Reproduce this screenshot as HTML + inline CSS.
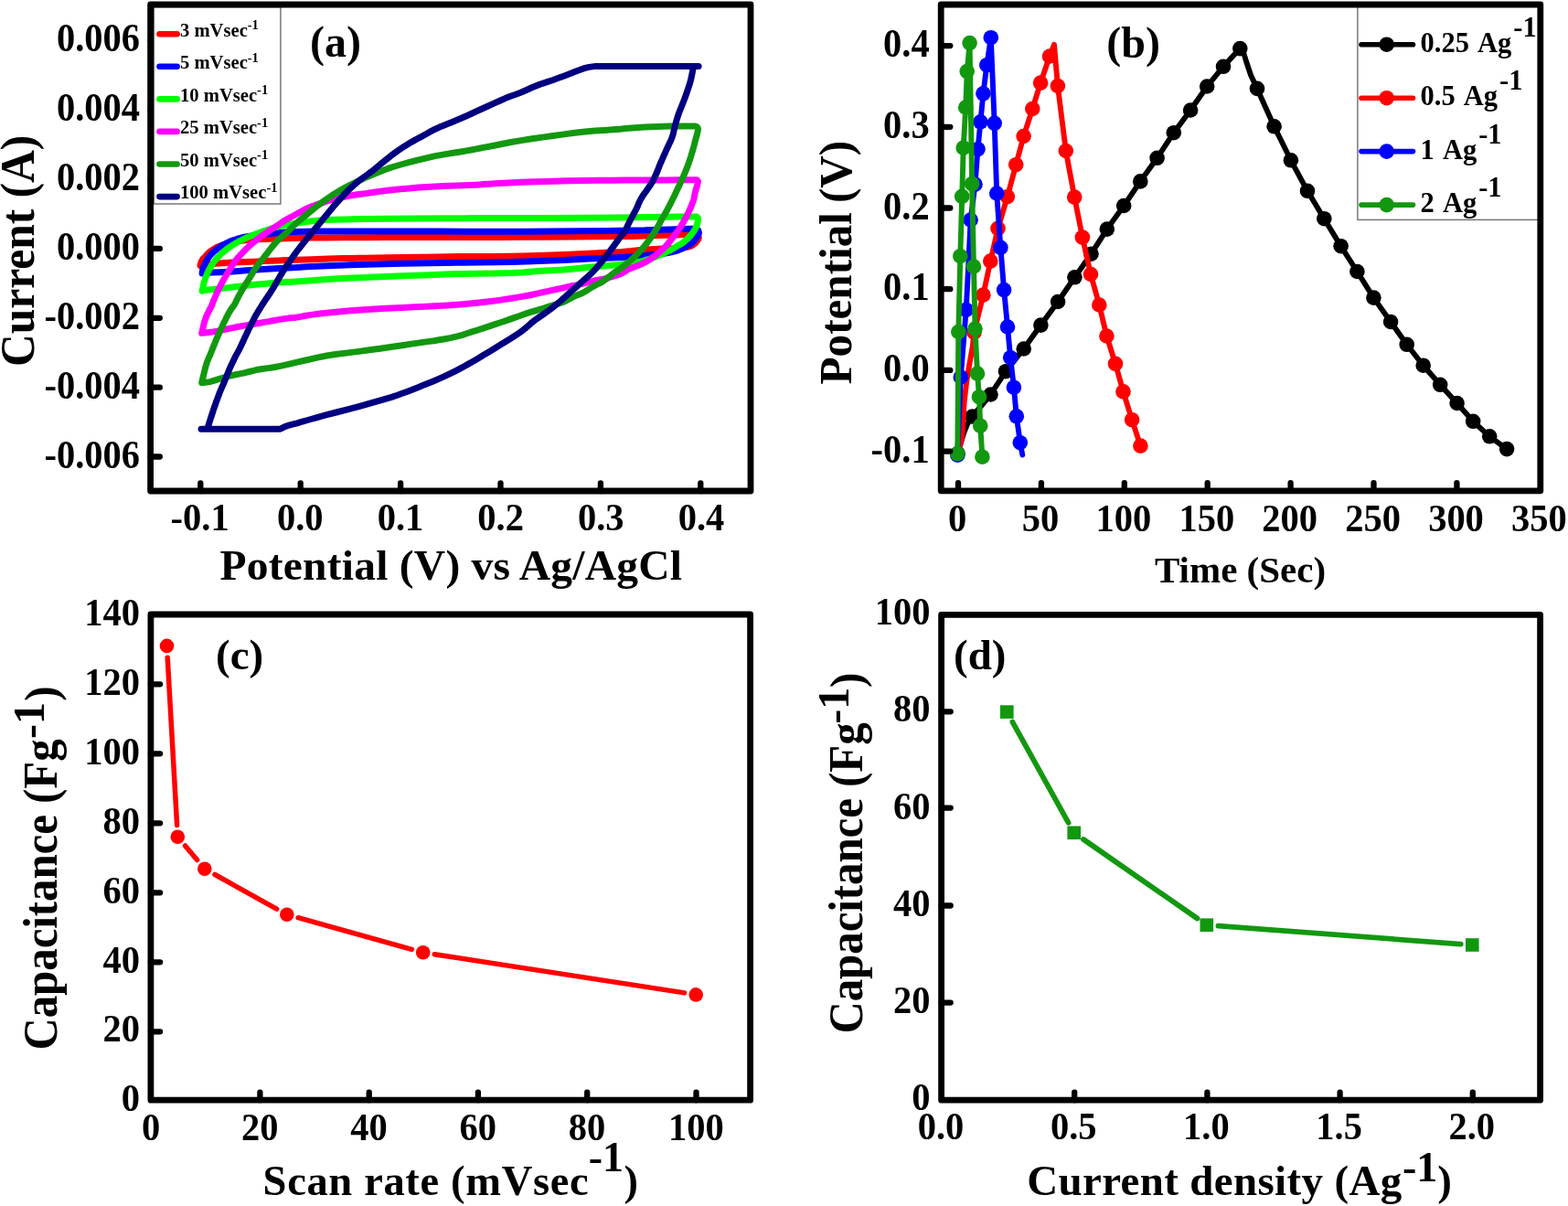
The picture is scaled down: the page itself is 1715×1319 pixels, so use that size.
<!DOCTYPE html>
<html lang="en"><head><meta charset="utf-8"><title>Electrochemical characterisation</title>
<style>
html,body{margin:0;padding:0;background:#fff;}
body{width:1715px;height:1319px;overflow:hidden;}
svg{display:block;}
text{font-family:"Liberation Serif", "DejaVu Serif", serif;font-weight:bold;fill:#000;}
</style></head><body>
<svg xmlns="http://www.w3.org/2000/svg" width="1715" height="1319" viewBox="0 0 1715 1319">
<rect width="1715" height="1319" fill="#fff"/>
<path d="M219.0 290.5 L219.2 289.5 L219.6 288.1 L220.0 286.7 L220.6 285.4 L221.3 284.2 L222.0 283.1 L222.7 282.3 L223.5 281.6 L224.5 280.6 L225.9 279.0 L227.6 277.2 L229.5 275.4 L231.7 273.8 L234.1 272.2 L236.5 270.8 L238.9 269.7 L241.3 268.8 L243.8 267.9 L246.4 267.0 L249.1 266.3 L252.0 265.5 L255.1 264.8 L258.4 264.1 L262.0 263.5 L265.9 263.0 L270.0 262.6 L275.0 262.2 L280.4 261.9 L286.5 261.6 L295.0 261.2 L306.3 260.9 L319.9 260.4 L336.0 260.1 L355.8 259.9 L378.1 259.8 L400.0 259.7 L420.3 259.6 L440.1 259.6 L460.0 259.6 L479.3 259.6 L498.5 259.5 L520.0 259.5 L545.4 259.4 L573.0 259.3 L600.0 259.2 L627.3 259.0 L654.0 258.7 L675.0 258.5 L685.8 258.4 L690.9 258.4 L698.0 258.2 L711.6 257.8 L727.3 257.3 L740.0 256.9 L747.3 256.6 L751.7 256.5 L755.0 256.4 L757.8 256.4 L759.6 256.4 L761.0 256.6 L762.3 257.0 L763.2 257.5 L763.8 257.8 L764.0 258.5 L764.2 259.5 L764.2 260.5 L763.9 261.4 L763.4 262.2 L762.7 263.2 L761.9 264.3 L760.8 265.6 L759.6 266.7 L758.2 267.7 L756.6 268.7 L754.7 269.5 L752.5 270.1 L750.0 270.5 L747.0 270.9 L744.0 271.2 L740.5 271.5 L735.0 271.8 L726.1 272.1 L715.3 272.5 L705.0 273.0 L697.5 273.7 L690.5 274.5 L680.0 275.4 L663.6 276.3 L643.6 277.3 L623.0 278.2 L602.3 279.0 L581.0 279.8 L560.0 280.3 L539.8 280.5 L519.9 280.5 L500.0 280.6 L479.3 280.9 L458.5 281.3 L440.0 281.6 L424.6 281.8 L411.5 282.0 L400.0 282.2 L391.5 282.3 L384.7 282.4 L375.0 282.6 L359.1 283.1 L340.3 283.7 L324.0 284.2 L312.7 284.6 L304.0 284.9 L296.0 285.2 L288.5 285.6 L281.7 286.0 L275.0 286.3 L268.0 286.5 L261.0 286.7 L254.0 287.0 L246.7 287.4 L239.5 287.9 L233.0 288.4 L227.3 289.1 L222.4 289.9 L219.0 290.5 Z" fill="none" stroke="#ff0000" stroke-width="7" stroke-linejoin="round" stroke-linecap="round"/>
<path d="M221.1 298.9 L221.3 297.8 L221.5 296.1 L221.8 294.6 L222.1 293.3 L222.6 292.1 L223.2 290.6 L224.2 288.6 L225.4 286.1 L226.7 283.8 L228.2 281.6 L229.8 279.5 L231.6 277.5 L233.5 275.6 L235.6 273.7 L237.9 271.9 L240.3 270.2 L242.9 268.5 L245.6 267.0 L248.3 265.6 L251.0 264.3 L254.0 263.1 L257.3 262.0 L260.9 260.9 L264.5 260.0 L267.6 259.2 L270.7 258.6 L275.0 257.9 L281.0 257.1 L288.1 256.3 L296.0 255.5 L303.0 254.7 L310.9 254.0 L324.0 253.4 L344.1 253.1 L369.6 253.0 L400.0 253.0 L438.2 253.0 L481.3 253.1 L520.0 253.2 L549.2 253.2 L574.0 253.2 L600.0 253.1 L631.8 252.8 L664.9 252.4 L691.0 252.0 L705.1 251.8 L712.3 251.5 L720.0 251.3 L732.0 250.9 L744.6 250.5 L754.0 250.2 L758.2 250.2 L759.2 250.3 L760.0 250.5 L761.6 251.0 L762.9 251.6 L763.8 252.0 L764.0 252.8 L764.3 253.9 L764.4 255.0 L764.1 256.0 L763.5 257.0 L762.7 258.3 L761.6 260.1 L760.2 262.2 L758.5 264.2 L756.6 265.9 L754.4 267.6 L751.9 269.1 L749.1 270.6 L746.0 272.0 L742.8 273.3 L739.9 274.4 L736.9 275.2 L733.0 276.1 L727.6 277.0 L721.2 277.8 L715.0 278.5 L709.3 279.1 L703.7 279.7 L698.0 280.2 L692.7 280.7 L687.4 281.1 L680.0 281.6 L669.6 282.1 L657.1 282.5 L644.0 283.1 L630.4 283.7 L616.2 284.4 L602.0 285.0 L588.7 285.5 L575.3 286.0 L560.0 286.4 L542.4 286.7 L522.9 287.0 L500.0 287.3 L471.5 287.7 L439.6 288.3 L410.0 288.9 L383.2 289.7 L358.6 290.7 L340.0 291.5 L331.1 292.0 L328.2 292.3 L324.0 292.6 L315.3 293.0 L305.3 293.5 L296.0 294.0 L288.2 294.5 L281.2 295.0 L275.0 295.4 L270.1 295.7 L265.9 296.1 L261.0 296.4 L254.4 296.9 L247.1 297.4 L240.0 297.8 L232.8 298.1 L225.9 298.3 L221.1 298.5 Z" fill="none" stroke="#0000ff" stroke-width="7" stroke-linejoin="round" stroke-linecap="round"/>
<path d="M221.1 318.2 L221.6 315.7 L222.4 312.2 L223.2 308.8 L224.1 306.0 L225.0 303.2 L226.0 300.6 L227.1 298.2 L228.2 295.9 L229.5 293.6 L231.0 291.0 L232.7 288.4 L234.4 285.9 L236.2 283.7 L238.0 281.6 L240.0 279.6 L242.2 277.4 L244.6 275.3 L247.0 273.3 L249.3 271.5 L251.7 269.9 L254.0 268.4 L256.3 266.9 L258.7 265.5 L261.0 264.2 L263.3 263.0 L265.7 261.8 L268.0 260.7 L270.3 259.7 L272.7 258.8 L275.0 257.9 L277.3 257.0 L279.7 256.0 L282.0 255.1 L284.3 254.2 L286.7 253.4 L289.0 252.6 L291.3 251.8 L293.7 251.0 L296.0 250.2 L298.3 249.5 L300.7 248.8 L303.0 248.2 L305.3 247.5 L307.7 246.9 L310.0 246.4 L312.1 246.0 L314.2 245.7 L317.0 245.3 L320.8 244.7 L325.3 243.9 L330.0 243.2 L334.7 242.6 L339.6 242.0 L345.0 241.5 L349.7 241.0 L354.8 240.6 L364.0 240.2 L378.3 239.9 L396.7 239.6 L420.0 239.3 L451.9 239.0 L488.7 238.8 L520.0 238.6 L538.5 238.5 L551.5 238.5 L570.0 238.5 L601.1 238.4 L637.8 238.2 L670.0 238.0 L694.2 237.8 L713.9 237.5 L730.0 237.3 L742.4 237.1 L751.2 237.0 L757.5 236.9 L760.8 236.9 L761.6 237.0 L762.0 237.2 L762.7 237.6 L763.2 238.2 L763.4 238.6 L763.4 239.6 L763.3 241.2 L763.1 242.9 L762.6 244.9 L761.9 247.1 L761.0 249.2 L760.0 251.1 L758.8 253.0 L757.5 254.8 L756.0 256.7 L754.3 258.6 L752.6 260.4 L750.8 262.1 L749.0 263.7 L747.0 265.3 L744.8 266.8 L742.4 268.1 L740.0 269.5 L737.7 270.9 L735.3 272.4 L733.0 273.7 L730.7 274.9 L728.3 276.1 L726.0 277.2 L723.7 278.2 L721.3 279.1 L719.0 280.0 L716.8 280.9 L714.6 281.9 L712.0 282.8 L709.0 283.7 L705.6 284.7 L701.5 285.6 L696.3 286.6 L690.5 287.6 L685.0 288.4 L681.0 289.0 L677.3 289.5 L672.0 290.0 L663.8 290.7 L653.9 291.4 L644.0 292.3 L634.7 293.2 L625.3 294.2 L616.0 295.1 L606.7 295.6 L597.3 296.0 L588.0 296.5 L579.9 297.2 L571.7 298.0 L560.0 298.6 L541.5 299.0 L519.5 299.3 L500.0 299.6 L486.4 300.1 L475.2 300.6 L462.4 301.1 L446.0 301.6 L428.0 302.2 L410.0 302.9 L391.8 303.7 L373.5 304.6 L357.4 305.5 L344.6 306.4 L334.0 307.2 L324.0 308.0 L314.0 308.6 L304.6 309.1 L296.0 309.7 L288.2 310.4 L281.2 311.1 L275.0 311.8 L270.1 312.3 L265.9 312.7 L261.0 313.2 L254.4 314.0 L247.1 314.9 L240.0 315.7 L232.8 316.5 L225.9 317.3 L221.1 317.8 Z" fill="none" stroke="#00ff00" stroke-width="7" stroke-linejoin="round" stroke-linecap="round"/>
<path d="M220.7 364.3 L221.2 362.3 L221.8 359.5 L222.5 356.6 L223.1 354.0 L223.8 351.4 L224.6 348.9 L225.5 346.5 L226.5 344.2 L227.6 341.9 L228.7 339.7 L229.9 337.5 L231.2 335.0 L232.4 332.0 L233.7 328.6 L235.0 325.5 L236.2 322.8 L237.3 320.2 L238.5 317.8 L239.6 315.4 L240.8 313.2 L242.0 310.8 L243.3 308.3 L244.8 305.6 L246.2 303.1 L247.6 300.7 L248.9 298.5 L250.4 296.1 L252.0 293.5 L253.6 290.9 L255.3 288.4 L256.9 286.2 L258.5 284.1 L260.2 282.1 L262.0 280.0 L263.9 277.8 L265.8 275.8 L267.7 273.9 L269.5 272.0 L271.4 270.2 L273.2 268.5 L275.0 267.0 L277.0 265.3 L279.2 263.5 L281.6 261.5 L284.0 259.7 L286.3 258.0 L288.7 256.4 L291.0 254.8 L293.3 253.2 L295.5 251.7 L297.7 250.2 L299.8 248.9 L301.8 247.6 L304.0 246.2 L306.4 244.6 L309.0 242.8 L312.1 240.8 L316.0 238.6 L320.4 236.2 L324.8 233.8 L329.4 231.4 L334.0 228.9 L338.0 227.0 L340.6 225.9 L342.5 225.3 L345.2 224.4 L349.3 222.9 L354.2 221.1 L359.0 219.5 L363.4 218.3 L367.6 217.3 L372.0 216.3 L376.6 215.3 L381.3 214.4 L386.0 213.5 L390.4 212.8 L394.9 212.3 L400.0 211.6 L405.9 210.7 L412.5 209.8 L420.0 208.8 L428.7 207.8 L438.4 206.8 L448.0 205.9 L457.5 205.1 L467.0 204.5 L476.0 203.9 L484.4 203.5 L492.4 203.2 L500.0 203.0 L507.1 202.7 L513.9 202.5 L520.0 202.2 L524.6 201.9 L528.7 201.6 L535.0 201.2 L544.5 200.6 L556.3 199.9 L570.0 199.3 L586.4 198.7 L604.6 198.2 L622.4 197.8 L638.8 197.5 L654.7 197.3 L670.0 197.2 L684.3 197.1 L697.9 197.1 L712.0 197.0 L728.4 196.9 L745.2 196.8 L757.5 196.8 L762.2 196.8 L762.2 196.8 L762.0 197.0 L762.7 197.4 L763.2 198.0 L763.4 198.4 L763.2 199.7 L762.9 201.5 L762.4 203.5 L761.8 205.7 L761.0 208.1 L760.3 210.5 L759.8 212.9 L759.4 215.3 L758.9 217.7 L758.1 220.2 L757.1 222.8 L756.1 225.4 L755.0 228.0 L753.8 230.6 L752.6 233.1 L751.5 235.5 L750.3 237.8 L749.1 240.1 L747.8 242.5 L746.3 244.8 L744.9 247.1 L743.5 249.3 L742.1 251.4 L740.7 253.4 L739.3 255.3 L738.0 257.1 L736.5 259.0 L734.9 261.0 L733.3 263.2 L731.6 265.3 L729.8 267.5 L727.9 269.6 L726.0 271.6 L724.2 273.3 L722.3 274.9 L720.4 276.5 L718.4 278.2 L716.2 279.8 L714.1 281.4 L712.0 282.9 L710.0 284.3 L707.8 285.6 L705.5 286.8 L703.2 288.0 L700.8 289.1 L698.5 290.1 L696.1 291.0 L693.8 291.9 L691.5 292.8 L689.1 293.7 L686.8 294.7 L684.8 296.0 L682.9 297.5 L680.0 299.0 L675.6 300.7 L670.2 302.5 L665.0 304.0 L660.3 305.1 L655.6 305.9 L651.0 306.8 L646.3 307.9 L641.7 309.1 L637.0 310.3 L632.3 311.3 L627.7 312.3 L623.0 313.2 L618.3 314.3 L613.7 315.3 L609.0 316.3 L604.3 317.3 L599.7 318.4 L595.0 319.4 L590.6 320.4 L586.2 321.4 L581.0 322.5 L574.7 323.7 L567.6 324.9 L560.0 326.2 L552.3 327.4 L544.2 328.6 L535.0 329.8 L523.9 331.0 L511.7 332.3 L500.0 333.3 L489.4 334.0 L479.4 334.5 L470.0 335.0 L461.7 335.4 L453.9 335.8 L445.0 336.2 L434.1 336.7 L422.0 337.3 L410.0 338.0 L398.3 338.7 L386.7 339.5 L375.0 340.5 L362.6 341.7 L350.2 343.1 L340.0 344.4 L333.3 345.5 L328.7 346.4 L325.0 347.1 L322.0 347.4 L319.9 347.5 L317.0 347.8 L312.8 348.4 L307.9 349.1 L303.0 349.9 L298.3 350.7 L293.7 351.6 L289.0 352.4 L284.3 353.2 L279.7 354.0 L275.0 354.8 L270.3 355.6 L265.7 356.4 L261.0 357.3 L256.3 358.2 L251.7 359.2 L247.0 360.1 L242.3 361.1 L237.5 362.1 L233.0 362.9 L228.3 363.5 L223.8 364.0 L220.7 364.3 Z" fill="none" stroke="#ff00ff" stroke-width="7" stroke-linejoin="round" stroke-linecap="round"/>
<path d="M220.7 418.5 L221.3 415.8 L222.2 412.0 L223.2 408.0 L224.1 404.2 L225.1 400.3 L226.3 396.5 L227.7 392.9 L229.3 389.4 L230.7 386.0 L232.0 382.8 L233.1 379.8 L234.3 376.9 L235.5 374.0 L236.6 371.2 L237.8 368.5 L239.0 365.9 L240.1 363.3 L241.3 360.8 L242.5 358.2 L243.6 355.6 L244.8 353.1 L246.0 350.7 L247.1 348.4 L248.3 346.1 L249.5 343.7 L250.8 341.4 L252.2 339.1 L253.6 337.1 L255.1 335.1 L256.5 333.0 L257.8 330.6 L259.0 328.1 L260.2 325.5 L261.6 322.9 L263.0 320.3 L264.4 317.8 L265.8 315.4 L267.1 313.2 L268.6 310.8 L270.2 308.3 L271.9 305.6 L273.5 303.1 L274.9 300.7 L276.3 298.4 L277.7 296.1 L279.3 293.8 L280.9 291.4 L282.6 289.1 L284.4 286.7 L286.4 284.4 L288.2 282.1 L289.9 279.9 L291.5 277.9 L293.1 275.8 L294.7 273.7 L296.3 271.6 L298.0 269.5 L299.8 267.4 L301.7 265.2 L303.6 263.2 L305.6 261.3 L307.8 259.4 L309.9 257.6 L312.0 255.7 L314.2 253.9 L316.2 252.0 L317.9 250.2 L319.5 248.5 L321.6 246.4 L324.2 244.0 L327.4 241.3 L331.0 238.3 L335.3 234.7 L340.2 230.7 L345.0 226.8 L349.5 223.4 L354.0 220.0 L358.5 216.9 L363.0 213.8 L367.5 211.0 L372.0 208.2 L376.6 205.6 L381.4 203.2 L386.0 200.8 L390.5 198.6 L395.0 196.5 L399.5 194.4 L404.0 192.5 L408.5 190.6 L413.0 188.8 L417.4 187.0 L421.8 185.2 L427.0 183.4 L433.2 181.5 L440.2 179.5 L448.0 177.4 L456.8 175.1 L466.4 172.8 L476.0 170.6 L485.8 168.9 L495.6 167.3 L504.0 166.0 L510.3 164.9 L515.2 164.0 L520.0 163.1 L524.3 162.3 L528.6 161.4 L535.0 160.2 L545.2 158.2 L557.6 155.8 L570.0 153.6 L581.7 151.8 L593.3 150.1 L605.0 148.5 L616.9 146.9 L628.7 145.3 L640.0 144.0 L650.7 143.1 L660.9 142.4 L670.0 141.8 L677.7 141.2 L684.3 140.6 L691.0 140.1 L698.0 139.6 L705.0 139.1 L712.0 138.7 L718.9 138.4 L725.7 138.2 L733.0 138.1 L741.6 138.0 L750.7 138.0 L757.5 138.0 L760.6 138.1 L761.5 138.3 L762.0 138.6 L762.7 139.2 L763.2 140.0 L763.4 140.5 L763.4 141.1 L763.4 142.2 L763.1 144.0 L762.4 147.0 L761.3 150.7 L760.3 154.5 L759.4 158.1 L758.4 161.6 L757.5 165.0 L756.6 168.1 L755.7 171.1 L754.7 174.1 L753.6 177.4 L752.4 180.7 L751.2 183.9 L750.0 186.8 L748.9 189.6 L747.7 192.3 L746.6 194.9 L745.4 197.4 L744.2 200.0 L742.9 202.9 L741.4 206.1 L740.0 209.1 L738.6 212.0 L737.2 214.9 L735.8 217.7 L734.4 220.5 L733.0 223.4 L731.6 226.1 L730.2 228.7 L728.8 231.3 L727.4 233.8 L726.0 236.2 L724.6 238.6 L723.2 241.1 L721.8 243.6 L720.5 246.2 L719.0 248.8 L717.4 251.4 L715.8 254.0 L714.1 256.6 L712.5 259.0 L710.9 261.3 L709.2 263.7 L707.4 266.0 L705.5 268.4 L703.6 270.7 L701.6 273.1 L699.4 275.4 L697.3 277.7 L695.2 279.7 L693.2 281.7 L691.0 283.7 L688.7 285.7 L686.4 287.7 L684.0 289.6 L681.6 291.5 L679.2 293.4 L677.0 295.0 L675.3 296.1 L673.7 296.9 L672.0 298.0 L669.8 299.7 L667.4 301.7 L665.0 303.6 L662.7 305.4 L660.3 307.0 L658.0 308.6 L655.7 309.8 L653.3 310.9 L651.0 312.1 L648.7 313.4 L646.3 314.9 L644.0 316.3 L641.7 317.7 L639.3 319.2 L637.0 320.5 L634.7 321.5 L632.3 322.4 L630.0 323.3 L627.7 324.4 L625.3 325.6 L623.0 326.8 L620.7 328.1 L618.3 329.3 L616.0 330.4 L613.9 331.1 L611.9 331.6 L609.0 332.5 L604.9 333.8 L599.9 335.4 L595.0 337.0 L590.3 338.4 L585.7 339.8 L581.0 341.2 L576.4 342.7 L571.7 344.3 L567.0 346.0 L562.1 347.6 L557.2 349.4 L552.0 351.2 L546.5 353.0 L540.8 354.9 L535.0 356.9 L529.0 358.8 L523.0 360.8 L517.0 362.6 L511.4 364.5 L505.9 366.3 L500.0 367.9 L493.5 369.4 L486.6 370.7 L480.0 371.8 L474.6 372.7 L469.5 373.4 L462.4 374.4 L452.0 375.9 L439.7 377.7 L427.4 379.5 L415.7 381.2 L404.1 382.8 L392.4 384.4 L380.6 385.9 L368.9 387.3 L357.4 389.0 L345.8 391.4 L334.4 394.0 L325.0 396.2 L318.7 397.7 L314.3 398.7 L310.0 399.6 L305.3 400.6 L300.6 401.5 L296.0 402.3 L291.3 402.9 L286.7 403.5 L282.0 404.2 L277.3 405.3 L272.7 406.5 L268.0 407.7 L263.3 408.6 L258.7 409.5 L254.0 410.5 L249.2 411.7 L244.4 413.1 L240.0 414.4 L236.2 415.6 L232.7 416.7 L229.5 417.6 L226.1 418.1 L222.9 418.4 L220.7 418.5 Z" fill="none" stroke="#12980f" stroke-width="7" stroke-linejoin="round" stroke-linecap="round"/>
<path d="M306.5 469.3 L220.0 469.3 L226.5 469.3 L226.7 468.9 L227.0 468.1 L227.6 466.5 L228.5 463.6 L229.7 459.8 L230.9 456.0 L232.1 452.5 L233.2 448.9 L234.4 445.5 L235.6 442.2 L236.7 438.9 L237.9 435.7 L239.1 432.6 L240.2 429.5 L241.4 426.6 L242.6 423.9 L243.7 421.3 L244.9 418.6 L246.0 415.8 L247.2 413.0 L248.4 410.0 L249.7 406.8 L251.1 403.4 L252.6 400.0 L254.3 396.5 L256.0 392.9 L257.7 389.5 L259.3 386.6 L260.8 383.9 L262.3 381.1 L263.7 378.1 L265.1 375.1 L266.5 372.0 L267.9 368.9 L269.3 365.9 L270.7 362.9 L272.1 360.0 L273.5 357.3 L274.9 354.5 L276.3 351.7 L277.7 348.8 L279.1 346.1 L280.6 343.5 L282.2 340.9 L283.7 338.4 L285.2 336.0 L286.6 333.7 L288.0 331.5 L289.4 329.4 L290.8 327.3 L292.4 325.0 L294.2 322.3 L296.1 319.3 L298.0 316.4 L299.7 313.6 L301.3 310.8 L302.9 308.0 L304.5 305.2 L306.2 302.3 L307.8 299.6 L309.4 297.0 L311.1 294.4 L312.7 291.9 L314.3 289.5 L316.0 287.2 L317.6 284.9 L319.3 282.5 L320.9 280.1 L322.5 277.9 L323.7 276.2 L324.8 274.7 L326.7 272.3 L329.9 268.3 L333.8 263.4 L338.0 258.2 L342.3 253.0 L346.9 247.5 L351.5 242.0 L356.0 236.5 L360.5 231.0 L365.0 225.6 L369.5 220.4 L374.1 215.3 L378.6 210.5 L383.1 206.1 L387.7 201.9 L392.2 198.0 L396.8 194.5 L401.4 191.3 L406.0 187.9 L410.7 184.2 L415.3 180.3 L420.0 176.5 L424.7 172.7 L429.3 169.1 L434.0 165.6 L438.7 162.4 L443.3 159.4 L448.0 156.6 L452.7 153.9 L457.3 151.3 L462.0 148.8 L466.7 146.2 L471.3 143.6 L476.0 141.2 L480.7 139.1 L485.3 137.2 L490.0 135.3 L494.6 133.4 L499.2 131.5 L504.0 129.5 L509.2 127.2 L514.7 124.7 L520.0 122.3 L525.0 120.0 L529.9 117.8 L535.0 115.5 L540.6 112.9 L546.6 110.2 L552.5 107.6 L558.3 105.3 L564.2 103.2 L570.0 101.0 L575.8 98.5 L581.7 95.8 L587.5 93.4 L593.3 91.3 L599.2 89.4 L605.0 87.5 L610.8 85.3 L616.6 83.2 L622.4 81.0 L628.5 78.6 L634.7 76.3 L640.0 74.4 L644.4 73.4 L648.0 72.9 L650.4 72.6 L764.1 72.6 L758.6 72.6 L758.5 73.0 L758.4 73.7 L758.0 75.5 L757.3 79.0 L756.4 83.6 L755.4 88.0 L754.3 91.9 L753.1 95.6 L751.9 99.2 L750.8 102.5 L749.6 105.7 L748.4 109.0 L747.0 112.5 L745.6 116.1 L744.2 119.5 L743.0 122.6 L741.9 125.5 L740.9 128.6 L739.9 131.9 L738.9 135.4 L738.0 139.0 L737.1 142.8 L736.2 146.7 L735.0 150.5 L733.6 154.0 L731.9 157.4 L730.3 160.8 L728.8 164.1 L727.4 167.4 L725.9 170.6 L724.5 173.9 L723.0 177.2 L721.6 180.4 L720.4 183.5 L719.3 186.5 L718.0 189.5 L716.7 192.6 L715.3 195.6 L713.7 198.6 L711.9 201.5 L710.0 204.3 L708.1 207.0 L706.4 209.5 L704.7 211.8 L703.2 214.0 L701.9 216.0 L700.8 217.9 L699.7 220.0 L698.6 222.5 L697.5 225.3 L696.2 228.2 L694.6 231.2 L692.9 234.3 L691.3 237.3 L689.9 239.9 L688.6 242.4 L687.3 245.0 L686.0 247.9 L684.6 250.9 L683.3 253.4 L682.1 255.0 L681.0 256.1 L679.8 257.5 L678.3 259.4 L676.6 261.6 L674.8 264.1 L672.6 267.2 L670.1 270.6 L667.7 273.9 L665.4 277.0 L663.0 280.0 L660.7 283.0 L658.4 285.9 L656.0 288.7 L653.7 291.4 L651.3 294.1 L649.0 296.7 L646.6 299.1 L644.3 301.3 L642.0 303.4 L639.6 305.4 L637.3 307.5 L634.9 309.6 L632.6 311.7 L630.3 313.8 L627.9 315.9 L625.6 318.0 L623.2 320.1 L620.9 322.2 L618.6 324.3 L616.2 326.4 L613.9 328.6 L611.5 330.6 L609.3 332.5 L607.0 334.3 L604.5 336.2 L602.0 338.2 L599.3 340.2 L596.1 342.5 L592.3 345.1 L588.1 348.0 L583.7 351.2 L579.4 354.8 L574.9 358.8 L570.0 362.7 L564.3 366.6 L558.1 370.4 L552.0 374.2 L546.3 377.7 L540.7 381.2 L535.0 384.7 L529.0 388.3 L523.0 391.9 L517.0 395.4 L511.4 398.6 L505.9 401.7 L500.0 404.8 L493.4 408.1 L486.5 411.4 L479.9 414.4 L473.9 417.0 L468.1 419.3 L462.4 421.6 L456.6 423.9 L450.8 426.2 L445.0 428.4 L439.8 430.3 L434.6 432.2 L427.4 434.6 L417.0 437.6 L404.7 441.2 L392.4 444.6 L380.1 447.8 L367.8 451.0 L357.4 453.7 L350.2 455.6 L345.0 457.1 L340.0 458.5 L334.7 460.0 L329.7 461.4 L325.0 462.8 L320.7 463.9 L316.9 464.9 L313.5 465.9 L310.6 467.1 L308.1 468.4 L306.5 469.3 Z" fill="none" stroke="#000080" stroke-width="7" stroke-linejoin="round" stroke-linecap="round"/>
<path d="M219.3 537.0 V528.4 M328.7 537.0 V528.4 M438.1 537.0 V528.4 M547.5 537.0 V528.4 M656.9 537.0 V528.4 M766.3 537.0 V528.4 M164.6 44.3 H174.8 M164.6 120.2 H174.8 M164.6 196.0 H174.8 M164.6 271.9 H174.8 M164.6 347.8 H174.8 M164.6 423.7 H174.8 M164.6 499.5 H174.8 " stroke="#000" stroke-width="6.3" stroke-linecap="round" fill="none"/>
<rect x="168.4" y="7.6" width="138.5" height="215.4" fill="#fff" stroke="#6e6e6e" stroke-width="1.4"/>
<path d="M174.5 37.3 H193.6" stroke="#ff0000" stroke-width="6.6" stroke-linecap="round"/>
<text transform="translate(197 39.6)" font-size="20.6">3 mVsec<tspan font-size="14.5" dy="-7.4">-1</tspan></text>
<path d="M174.5 72.8 H193.6" stroke="#0000ff" stroke-width="6.6" stroke-linecap="round"/>
<text transform="translate(197 75.1)" font-size="20.6">5 mVsec<tspan font-size="14.5" dy="-7.4">-1</tspan></text>
<path d="M174.5 108.4 H193.6" stroke="#00ff00" stroke-width="6.6" stroke-linecap="round"/>
<text transform="translate(197 110.7)" font-size="20.6">10 mVsec<tspan font-size="14.5" dy="-7.4">-1</tspan></text>
<path d="M174.5 143.9 H193.6" stroke="#ff00ff" stroke-width="6.6" stroke-linecap="round"/>
<text transform="translate(197 146.2)" font-size="20.6">25 mVsec<tspan font-size="14.5" dy="-7.4">-1</tspan></text>
<path d="M174.5 179.5 H193.6" stroke="#12980f" stroke-width="6.6" stroke-linecap="round"/>
<text transform="translate(197 181.8)" font-size="20.6">50 mVsec<tspan font-size="14.5" dy="-7.4">-1</tspan></text>
<path d="M174.5 215.1 H193.6" stroke="#000080" stroke-width="6.6" stroke-linecap="round"/>
<text transform="translate(197 217.4)" font-size="20.6">100 mVsec<tspan font-size="14.5" dy="-7.4">-1</tspan></text>
<rect x="164.6" y="5" width="656.4" height="532.0" fill="none" stroke="#000" stroke-width="6.8" stroke-linejoin="round"/>
<text transform="translate(153.0 55.9) scale(1 1.075)" font-size="40.5" text-anchor="end">0.006</text>
<text transform="translate(153.0 131.9) scale(1 1.075)" font-size="40.5" text-anchor="end">0.004</text>
<text transform="translate(153.0 207.9) scale(1 1.075)" font-size="40.5" text-anchor="end">0.002</text>
<text transform="translate(153.0 283.9) scale(1 1.075)" font-size="40.5" text-anchor="end">0.000</text>
<text transform="translate(153.0 359.9) scale(1 1.075)" font-size="40.5" text-anchor="end">-0.002</text>
<text transform="translate(153.0 435.9) scale(1 1.075)" font-size="40.5" text-anchor="end">-0.004</text>
<text transform="translate(153.0 511.9) scale(1 1.075)" font-size="40.5" text-anchor="end">-0.006</text>
<text transform="translate(218.6 580.4) scale(1 1.04)" font-size="40.5" text-anchor="middle">-0.1</text>
<text transform="translate(328.3 580.4) scale(1 1.04)" font-size="40.5" text-anchor="middle">0.0</text>
<text transform="translate(438.0 580.4) scale(1 1.04)" font-size="40.5" text-anchor="middle">0.1</text>
<text transform="translate(547.6 580.4) scale(1 1.04)" font-size="40.5" text-anchor="middle">0.2</text>
<text transform="translate(657.3 580.4) scale(1 1.04)" font-size="40.5" text-anchor="middle">0.3</text>
<text transform="translate(767.0 580.4) scale(1 1.04)" font-size="40.5" text-anchor="middle">0.4</text>
<text transform="translate(240.5 634) scale(1 0.985)" font-size="47.5" textLength="505.5" lengthAdjust="spacing">Potential (V) vs Ag/AgCl</text>
<text transform="translate(37.2 401.0) rotate(-90) scale(1 1.08)" font-size="49.5">Current (A)</text>
<text transform="translate(339 62.2)" font-size="48">(a)</text>
<path d="M1047.5 496.0 L1050.5 486.0 L1054.0 474.0 L1058.5 463.0 L1063.5 455.5 L1083.5 431.5 L1100.0 406.2 L1119.7 381.5 L1138.4 355.6 L1157.1 330.0 L1175.4 303.3 L1193.5 277.7 L1210.8 250.6 L1229.2 225.0 L1247.3 198.4 L1265.6 172.8 L1283.8 145.2 L1302.1 120.5 L1320.2 94.5 L1338.0 72.8 L1356.3 53.1 L1360.0 57.0 L1363.0 67.0 L1368.0 82.0 L1375.0 96.9 L1393.6 138.3 L1411.9 175.3 L1430.0 208.8 L1448.3 239.2 L1466.6 269.2 L1484.4 297.0 L1502.4 325.6 L1521.1 352.0 L1538.7 376.8 L1556.7 399.7 L1575.2 420.8 L1593.6 441.0 L1611.2 460.8 L1629.2 477.3 L1648.1 491.1" fill="none" stroke="#000000" stroke-width="5.9" stroke-linejoin="round" stroke-linecap="round"/>
<g fill="#000000"><circle cx="1047.5" cy="496" r="8.3"/><circle cx="1063.5" cy="455.5" r="8.3"/><circle cx="1083.5" cy="431.5" r="8.3"/><circle cx="1100" cy="406.2" r="8.3"/><circle cx="1119.7" cy="381.5" r="8.3"/><circle cx="1138.4" cy="355.6" r="8.3"/><circle cx="1157.1" cy="330" r="8.3"/><circle cx="1175.4" cy="303.3" r="8.3"/><circle cx="1193.5" cy="277.7" r="8.3"/><circle cx="1210.8" cy="250.6" r="8.3"/><circle cx="1229.2" cy="225" r="8.3"/><circle cx="1247.3" cy="198.4" r="8.3"/><circle cx="1265.6" cy="172.8" r="8.3"/><circle cx="1283.8" cy="145.2" r="8.3"/><circle cx="1302.1" cy="120.5" r="8.3"/><circle cx="1320.2" cy="94.5" r="8.3"/><circle cx="1338" cy="72.8" r="8.3"/><circle cx="1356.3" cy="53.1" r="8.3"/><circle cx="1375" cy="96.9" r="8.3"/><circle cx="1393.6" cy="138.3" r="8.3"/><circle cx="1411.9" cy="175.3" r="8.3"/><circle cx="1430" cy="208.8" r="8.3"/><circle cx="1448.3" cy="239.2" r="8.3"/><circle cx="1466.6" cy="269.2" r="8.3"/><circle cx="1484.4" cy="297" r="8.3"/><circle cx="1502.4" cy="325.6" r="8.3"/><circle cx="1521.1" cy="352" r="8.3"/><circle cx="1538.7" cy="376.8" r="8.3"/><circle cx="1556.7" cy="399.7" r="8.3"/><circle cx="1575.2" cy="420.8" r="8.3"/><circle cx="1593.6" cy="441" r="8.3"/><circle cx="1611.2" cy="460.8" r="8.3"/><circle cx="1629.2" cy="477.3" r="8.3"/><circle cx="1648.1" cy="491.1" r="8.3"/></g>
<path d="M1047.5 496.0 L1050.0 487.0 L1052.2 478.5 L1053.4 460.0 L1054.7 439.1 L1057.2 417.4 L1060.1 399.7 L1063.6 380.0 L1065.5 363.4 L1075.4 322.6 L1083.3 285.6 L1091.5 249.8 L1101.8 215.2 L1111.2 180.2 L1119.6 149.0 L1129.3 119.0 L1138.1 90.6 L1148.0 61.5 L1153.0 48.7 L1156.9 94.0 L1165.8 165.0 L1175.2 215.6 L1183.9 259.6 L1193.0 300.0 L1202.3 333.5 L1210.4 367.5 L1220.0 397.8 L1228.5 428.4 L1238.1 459.2 L1247.4 487.6" fill="none" stroke="#ff0000" stroke-width="5.9" stroke-linejoin="round" stroke-linecap="round"/>
<g fill="#ff0000"><circle cx="1065.5" cy="363.4" r="8.3"/><circle cx="1075.4" cy="322.6" r="8.3"/><circle cx="1083.3" cy="285.6" r="8.3"/><circle cx="1091.5" cy="249.8" r="8.3"/><circle cx="1101.8" cy="215.2" r="8.3"/><circle cx="1111.2" cy="180.2" r="8.3"/><circle cx="1119.6" cy="149" r="8.3"/><circle cx="1129.3" cy="119" r="8.3"/><circle cx="1138.1" cy="90.6" r="8.3"/><circle cx="1148" cy="61.5" r="8.3"/><circle cx="1156.9" cy="94" r="8.3"/><circle cx="1165.8" cy="165" r="8.3"/><circle cx="1175.2" cy="215.6" r="8.3"/><circle cx="1183.9" cy="259.6" r="8.3"/><circle cx="1193" cy="300" r="8.3"/><circle cx="1202.3" cy="333.5" r="8.3"/><circle cx="1210.4" cy="367.5" r="8.3"/><circle cx="1220" cy="397.8" r="8.3"/><circle cx="1228.5" cy="428.4" r="8.3"/><circle cx="1238.1" cy="459.2" r="8.3"/><circle cx="1247.4" cy="487.6" r="8.3"/></g>
<path d="M1047.3 497.7 L1050.8 412.5 L1056.7 338.8 L1059.2 290.0 L1061.6 240.5 L1066.5 201.6 L1069.5 163.2 L1072.4 133.3 L1075.4 102.3 L1079.3 71.2 L1083.8 41.2 L1087.7 134.8 L1090.2 211.5 L1094.4 270.8 L1098.1 317.1 L1102.0 357.5 L1105.2 391.2 L1108.9 423.7 L1111.8 455.3 L1115.8 484.2 L1118.3 497.5" fill="none" stroke="#0000ff" stroke-width="5.9" stroke-linejoin="round" stroke-linecap="round"/>
<g fill="#0000ff"><circle cx="1047.3" cy="497.7" r="8.3"/><circle cx="1050.8" cy="412.5" r="8.3"/><circle cx="1056.7" cy="338.8" r="8.3"/><circle cx="1061.6" cy="240.5" r="8.3"/><circle cx="1066.5" cy="201.6" r="8.3"/><circle cx="1069.5" cy="163.2" r="8.3"/><circle cx="1072.4" cy="133.3" r="8.3"/><circle cx="1075.4" cy="102.3" r="8.3"/><circle cx="1079.3" cy="71.2" r="8.3"/><circle cx="1083.8" cy="41.2" r="8.3"/><circle cx="1087.7" cy="134.8" r="8.3"/><circle cx="1090.2" cy="211.5" r="8.3"/><circle cx="1094.4" cy="270.8" r="8.3"/><circle cx="1098.1" cy="317.1" r="8.3"/><circle cx="1102" cy="357.5" r="8.3"/><circle cx="1105.2" cy="391.2" r="8.3"/><circle cx="1108.9" cy="423.7" r="8.3"/><circle cx="1111.8" cy="455.3" r="8.3"/><circle cx="1115.8" cy="484.2" r="8.3"/></g>
<path d="M1047.3 496.3 L1048.3 363.0 L1050.3 280.2 L1052.2 214.9 L1053.7 161.7 L1056.2 117.5 L1057.7 78.1 L1060.6 47.1 L1063.1 201.1 L1065.0 291.5 L1066.5 359.5 L1069.0 408.6 L1071.0 434.2 L1072.2 465.7 L1074.4 499.7" fill="none" stroke="#12980f" stroke-width="5.9" stroke-linejoin="round" stroke-linecap="round"/>
<g fill="#12980f"><circle cx="1047.3" cy="496.3" r="8.3"/><circle cx="1048.3" cy="363" r="8.3"/><circle cx="1050.3" cy="280.2" r="8.3"/><circle cx="1052.2" cy="214.9" r="8.3"/><circle cx="1053.7" cy="161.7" r="8.3"/><circle cx="1056.2" cy="117.5" r="8.3"/><circle cx="1057.7" cy="78.1" r="8.3"/><circle cx="1060.6" cy="47.1" r="8.3"/><circle cx="1063.1" cy="201.1" r="8.3"/><circle cx="1065" cy="291.5" r="8.3"/><circle cx="1066.5" cy="359.5" r="8.3"/><circle cx="1069" cy="408.6" r="8.3"/><circle cx="1071" cy="434.2" r="8.3"/><circle cx="1072.2" cy="465.7" r="8.3"/><circle cx="1074.4" cy="499.7" r="8.3"/></g>
<rect x="1484.9" y="5.0" width="199.89999999999986" height="235.4" fill="#fff" stroke="#6e6e6e" stroke-width="1.4"/>
<path d="M1489 48.7 H1545.5" stroke="#000000" stroke-width="5.6" stroke-linecap="round"/>
<circle cx="1516.7" cy="48.7" r="8.3" fill="#000000"/>
<text transform="translate(1553.5 56.7)" font-size="30.5" style="word-spacing:3.2px">0.25 Ag<tspan dy="-17" dx="2">-1</tspan></text>
<path d="M1489 107.2 H1545.5" stroke="#ff0000" stroke-width="5.6" stroke-linecap="round"/>
<circle cx="1516.7" cy="107.2" r="8.3" fill="#ff0000"/>
<text transform="translate(1553.5 115.2)" font-size="30.5" style="word-spacing:3.2px">0.5 Ag<tspan dy="-17" dx="2">-1</tspan></text>
<path d="M1489 165.6 H1545.5" stroke="#0000ff" stroke-width="5.6" stroke-linecap="round"/>
<circle cx="1516.7" cy="165.6" r="8.3" fill="#0000ff"/>
<text transform="translate(1553.5 173.6)" font-size="30.5" style="word-spacing:3.2px">1 Ag<tspan dy="-17" dx="2">-1</tspan></text>
<path d="M1489 224.1 H1545.5" stroke="#12980f" stroke-width="5.6" stroke-linecap="round"/>
<circle cx="1516.7" cy="224.1" r="8.3" fill="#12980f"/>
<text transform="translate(1553.5 232.1)" font-size="30.5" style="word-spacing:3.2px">2 Ag<tspan dy="-17" dx="2">-1</tspan></text>
<path d="M1048.0 536.8 V528.1 M1138.9 536.8 V528.1 M1229.8 536.8 V528.1 M1320.7 536.8 V528.1 M1411.6 536.8 V528.1 M1502.5 536.8 V528.1 M1593.4 536.8 V528.1 M1029.2 50.1 H1039.3 M1029.2 138.8 H1039.3 M1029.2 227.5 H1039.3 M1029.2 316.2 H1039.3 M1029.2 404.9 H1039.3 M1029.2 493.6 H1039.3 " stroke="#000" stroke-width="6.3" stroke-linecap="round" fill="none"/>
<rect x="1029.2" y="5.0" width="655.5999999999999" height="531.8" fill="none" stroke="#000" stroke-width="6.8" stroke-linejoin="round"/>
<text transform="translate(1016.7 62.1) scale(1 1.075)" font-size="40.5" text-anchor="end">0.4</text>
<text transform="translate(1016.7 150.8) scale(1 1.075)" font-size="40.5" text-anchor="end">0.3</text>
<text transform="translate(1016.7 239.5) scale(1 1.075)" font-size="40.5" text-anchor="end">0.2</text>
<text transform="translate(1016.7 328.2) scale(1 1.075)" font-size="40.5" text-anchor="end">0.1</text>
<text transform="translate(1016.7 416.9) scale(1 1.075)" font-size="40.5" text-anchor="end">0.0</text>
<text transform="translate(1016.7 505.6) scale(1 1.075)" font-size="40.5" text-anchor="end">-0.1</text>
<text transform="translate(1047.1 580.5) scale(1 1.04)" font-size="40.5" text-anchor="middle">0</text>
<text transform="translate(1138.0 580.5) scale(1 1.04)" font-size="40.5" text-anchor="middle">50</text>
<text transform="translate(1228.9 580.5) scale(1 1.04)" font-size="40.5" text-anchor="middle">100</text>
<text transform="translate(1319.8 580.5) scale(1 1.04)" font-size="40.5" text-anchor="middle">150</text>
<text transform="translate(1410.7 580.5) scale(1 1.04)" font-size="40.5" text-anchor="middle">200</text>
<text transform="translate(1501.6 580.5) scale(1 1.04)" font-size="40.5" text-anchor="middle">250</text>
<text transform="translate(1592.5 580.5) scale(1 1.04)" font-size="40.5" text-anchor="middle">300</text>
<text transform="translate(1683.4 580.5) scale(1 1.04)" font-size="40.5" text-anchor="middle">350</text>
<text transform="translate(1263 637.2)" font-size="41">Time (Sec)</text>
<text transform="translate(931 420.5) rotate(-90) scale(1 1.025)" font-size="49.2" style="word-spacing:-2.3px">Potential (V)</text>
<text transform="translate(1210.3 63.2)" font-size="48">(b)</text>
<line x1="183.2" y1="719.2" x2="193.6" y2="902.4" stroke="#ff0000" stroke-width="5.5" stroke-linecap="round"/>
<line x1="202.5" y1="925.0" x2="215.6" y2="940.5" stroke="#ff0000" stroke-width="5.5" stroke-linecap="round"/>
<line x1="235.0" y1="956.5" x2="302.6" y2="994.1" stroke="#ff0000" stroke-width="5.5" stroke-linecap="round"/>
<line x1="326.1" y1="1003.7" x2="450.4" y2="1038.3" stroke="#ff0000" stroke-width="5.5" stroke-linecap="round"/>
<line x1="475.3" y1="1043.7" x2="748.6" y2="1085.9" stroke="#ff0000" stroke-width="5.5" stroke-linecap="round"/>
<g fill="#ff0000"><circle cx="182.5" cy="706.4" r="7.8"/><circle cx="194.3" cy="915.2" r="7.8"/><circle cx="223.8" cy="950.3" r="7.8"/><circle cx="313.8" cy="1000.3" r="7.8"/><circle cx="462.7" cy="1041.7" r="7.8"/><circle cx="761.2" cy="1087.9" r="7.8"/></g>
<path d="M284.4 1203.2 V1194.6 M403.7 1203.2 V1194.6 M522.9 1203.2 V1194.6 M642.2 1203.2 V1194.6 M761.5 1203.2 V1194.6 M164.9 748.3 H175.1 M164.9 824.3 H175.1 M164.9 900.3 H175.1 M164.9 976.3 H175.1 M164.9 1052.3 H175.1 M164.9 1128.3 H175.1 " stroke="#000" stroke-width="6.3" stroke-linecap="round" fill="none"/>
<rect x="164.9" y="672" width="655.7" height="531.2" fill="none" stroke="#000" stroke-width="6.8" stroke-linejoin="round"/>
<text transform="translate(153.1 684.4) scale(1 1.04)" font-size="40.5" text-anchor="end">140</text>
<text transform="translate(153.1 760.2) scale(1 1.04)" font-size="40.5" text-anchor="end">120</text>
<text transform="translate(153.1 836.1) scale(1 1.04)" font-size="40.5" text-anchor="end">100</text>
<text transform="translate(153.1 911.9) scale(1 1.04)" font-size="40.5" text-anchor="end">80</text>
<text transform="translate(153.1 987.8) scale(1 1.04)" font-size="40.5" text-anchor="end">60</text>
<text transform="translate(153.1 1063.6) scale(1 1.04)" font-size="40.5" text-anchor="end">40</text>
<text transform="translate(153.1 1139.4) scale(1 1.04)" font-size="40.5" text-anchor="end">20</text>
<text transform="translate(153.1 1215.3) scale(1 1.04)" font-size="40.5" text-anchor="end">0</text>
<text transform="translate(165.0 1247.2) scale(1 1.025)" font-size="40.5" text-anchor="middle">0</text>
<text transform="translate(284.3 1247.2) scale(1 1.025)" font-size="40.5" text-anchor="middle">20</text>
<text transform="translate(403.5 1247.2) scale(1 1.025)" font-size="40.5" text-anchor="middle">40</text>
<text transform="translate(522.8 1247.2) scale(1 1.025)" font-size="40.5" text-anchor="middle">60</text>
<text transform="translate(642.1 1247.2) scale(1 1.025)" font-size="40.5" text-anchor="middle">80</text>
<text transform="translate(761.4 1247.2) scale(1 1.025)" font-size="40.5" text-anchor="middle">100</text>
<text transform="translate(287.6 1307)" font-size="46.5" textLength="356" lengthAdjust="spacing">Scan rate (mVsec</text>
<text transform="translate(643.8 1280.5)" font-size="46">-1</text>
<text transform="translate(682.6 1307)" font-size="46.5">)</text>
<text transform="translate(62.3 1148.5) rotate(-90) scale(1 1.07)" font-size="48.8">Capacitance (Fg</text>
<text transform="translate(47.5 807.9) rotate(-90) scale(1 1.03)" font-size="48">-1</text>
<text transform="translate(62.3 766.8) rotate(-90) scale(1 1.03)" font-size="49.5">)</text>
<text transform="translate(236 731.5)" font-size="47">(c)</text>
<line x1="1107.4" y1="789.6" x2="1168.6" y2="899.8" stroke="#12980f" stroke-width="5.8" stroke-linecap="round"/>
<line x1="1185.0" y1="918.0" x2="1309.5" y2="1004.5" stroke="#12980f" stroke-width="5.8" stroke-linecap="round"/>
<line x1="1332.4" y1="1012.6" x2="1597.7" y2="1032.6" stroke="#12980f" stroke-width="5.8" stroke-linecap="round"/>
<g fill="#12980f"><rect x="1094.0" y="771.3" width="14.6" height="14.6"/><rect x="1167.4" y="903.5" width="14.6" height="14.6"/><rect x="1312.5" y="1004.4" width="14.6" height="14.6"/><rect x="1603.0" y="1026.2" width="14.6" height="14.6"/></g>
<path d="M1175.2 1203.2 V1194.6 M1320.4 1203.2 V1194.6 M1465.6 1203.2 V1194.6 M1610.8 1203.2 V1194.6 M1029.6 778.3 H1039.7 M1029.6 883.6 H1039.7 M1029.6 990.5 H1039.7 M1029.6 1096.6 H1039.7 " stroke="#000" stroke-width="6.3" stroke-linecap="round" fill="none"/>
<rect x="1029.6" y="672.4" width="655.0" height="530.8000000000001" fill="none" stroke="#000" stroke-width="6.8" stroke-linejoin="round"/>
<text transform="translate(1017.4 683.1) scale(1 1.035)" font-size="40.5" text-anchor="end">100</text>
<text transform="translate(1017.4 789.3) scale(1 1.035)" font-size="40.5" text-anchor="end">80</text>
<text transform="translate(1017.4 895.6) scale(1 1.035)" font-size="40.5" text-anchor="end">60</text>
<text transform="translate(1017.4 1001.8) scale(1 1.035)" font-size="40.5" text-anchor="end">40</text>
<text transform="translate(1017.4 1108.1) scale(1 1.035)" font-size="40.5" text-anchor="end">20</text>
<text transform="translate(1017.4 1214.3) scale(1 1.035)" font-size="40.5" text-anchor="end">0</text>
<text transform="translate(1029.0 1246.2) scale(1 1.025)" font-size="40.5" text-anchor="middle">0.0</text>
<text transform="translate(1174.2 1246.2) scale(1 1.025)" font-size="40.5" text-anchor="middle">0.5</text>
<text transform="translate(1319.4 1246.2) scale(1 1.025)" font-size="40.5" text-anchor="middle">1.0</text>
<text transform="translate(1464.6 1246.2) scale(1 1.025)" font-size="40.5" text-anchor="middle">1.5</text>
<text transform="translate(1609.8 1246.2) scale(1 1.025)" font-size="40.5" text-anchor="middle">2.0</text>
<text transform="translate(1123.2 1306.8)" font-size="47" textLength="410" lengthAdjust="spacing">Current density (Ag</text>
<text transform="translate(1533.9 1292.2)" font-size="46">-1</text>
<text transform="translate(1572.2 1306.8)" font-size="47">)</text>
<text transform="translate(943.2 1130.5) rotate(-90) scale(1 1.07)" font-size="48.8">Capacitance (Fg</text>
<text transform="translate(928.4 791.8) rotate(-90) scale(1 1.03)" font-size="48">-1</text>
<text transform="translate(943.2 752.0) rotate(-90) scale(1 1.03)" font-size="49.5">)</text>
<text transform="translate(1043 731.8)" font-size="47">(d)</text>
</svg>
</body></html>
